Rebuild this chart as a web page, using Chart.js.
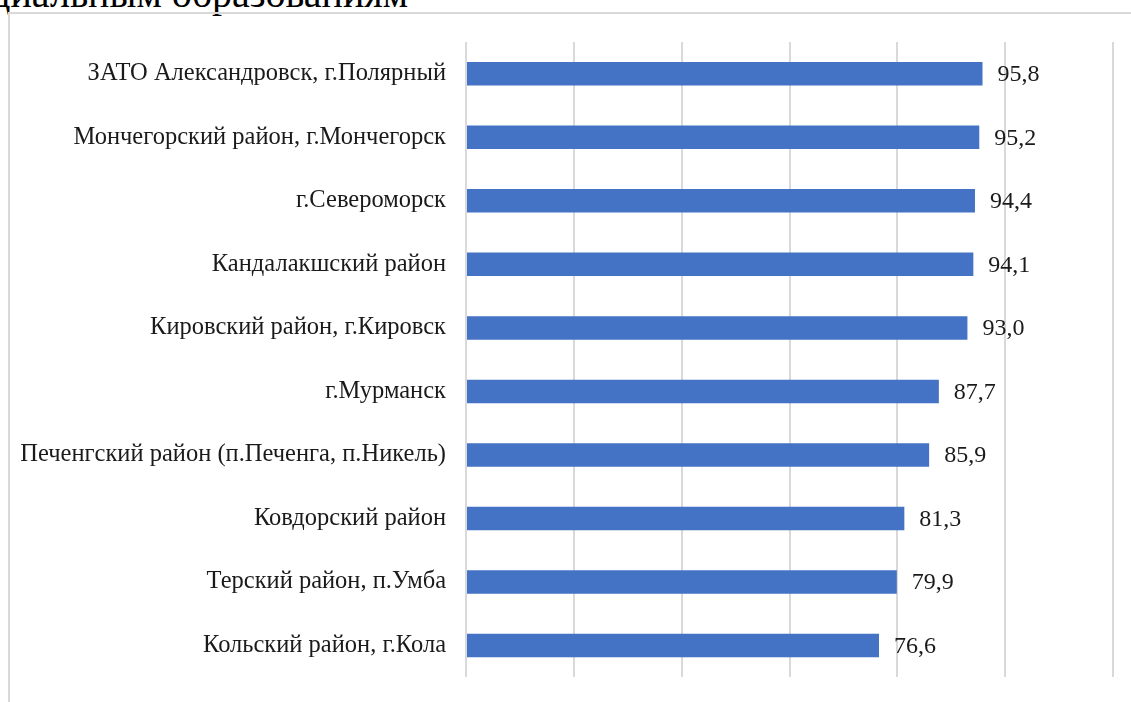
<!DOCTYPE html>
<html>
<head>
<meta charset="utf-8">
<script src="https://cdn.jsdelivr.net/npm/chart.js@4"></script>
<style>
    body { margin: 0; background: #fff; overflow: hidden; }
    #top-text {
        position: absolute; left: -11px; top: -26px;
        font-family: "Liberation Serif", serif; font-size: 40px; line-height: 40px; color: #000;
        white-space: nowrap;
    }
    #frame {
        position: absolute; left: 8px; top: 12px; width: 1140px; height: 700px;
        border: 2px solid #d9d9d9; box-sizing: border-box;
    }
    #wrap { position: absolute; left: 10px; top: 14px; width: 1130px; height: 690px; }
</style>
</head>
<body>
<div id="top-text">циальным образованиям</div>
<div id="frame"></div>
<div id="wrap"><canvas id="chart"></canvas></div>
<script>
// Данные
const categories = [
    "ЗАТО Александровск, г.Полярный",
    "Мончегорский район, г.Мончегорск",
    "г.Североморск",
    "Кандалакшский район",
    "Кировский район, г.Кировск",
    "г.Мурманск",
    "Печенгский район (п.Печенга, п.Никель)",
    "Ковдорский район",
    "Терский район, п.Умба",
    "Кольский район, г.Кола"
];
const values = [95.8, 95.2, 94.4, 94.1, 93.0, 87.7, 85.9, 81.3, 79.9, 76.6];

const FONT = "'Liberation Serif', 'Times New Roman', serif";

// Подписи значений справа от столбцов
const valueLabels = {
    id: "valueLabels",
    afterDatasetsDraw(chart) {
        const ctx = chart.ctx;
        const meta = chart.getDatasetMeta(0);
        ctx.save();
        ctx.font = "24px " + FONT;
        ctx.fillStyle = "#1a1a1a";
        ctx.textAlign = "left";
        ctx.textBaseline = "middle";
        meta.data.forEach((bar, i) => {
            ctx.fillText(values[i].toFixed(1).replace(".", ","), bar.x + 15, bar.y + 1);
        });
        ctx.restore();
    }
};

new Chart(document.getElementById("chart").getContext("2d"), {
    type: "bar",
    data: {
        labels: categories,
        datasets: [{
            data: values,
            backgroundColor: "#4472c4",
            categoryPercentage: 1,
            barPercentage: 0.37,
        }],
    },
    options: {
        indexAxis: "y",
        responsive: true,
        maintainAspectRatio: false,
        animation: false,
        layout: { padding: { top: 28, bottom: 24, right: 27, left: 0 } },
        plugins: { legend: { display: false }, tooltip: { enabled: false } },
        scales: {
            x: {
                min: 0, max: 120,
                ticks: { display: false, stepSize: 20 },
                grid: { color: "#d9d9d9", lineWidth: 2, drawTicks: false },
                border: { display: false },
                afterFit(scale) { scale.height = 0; },
            },
            y: {
                grid: { display: false },
                border: { display: false },
                ticks: { color: "#1a1a1a", font: { family: FONT, size: 24.5 }, padding: 12 },
                afterFit(scale) { scale.width = 456; },
            },
        },
    },
    plugins: [valueLabels],
});
</script>
</body>
</html>
